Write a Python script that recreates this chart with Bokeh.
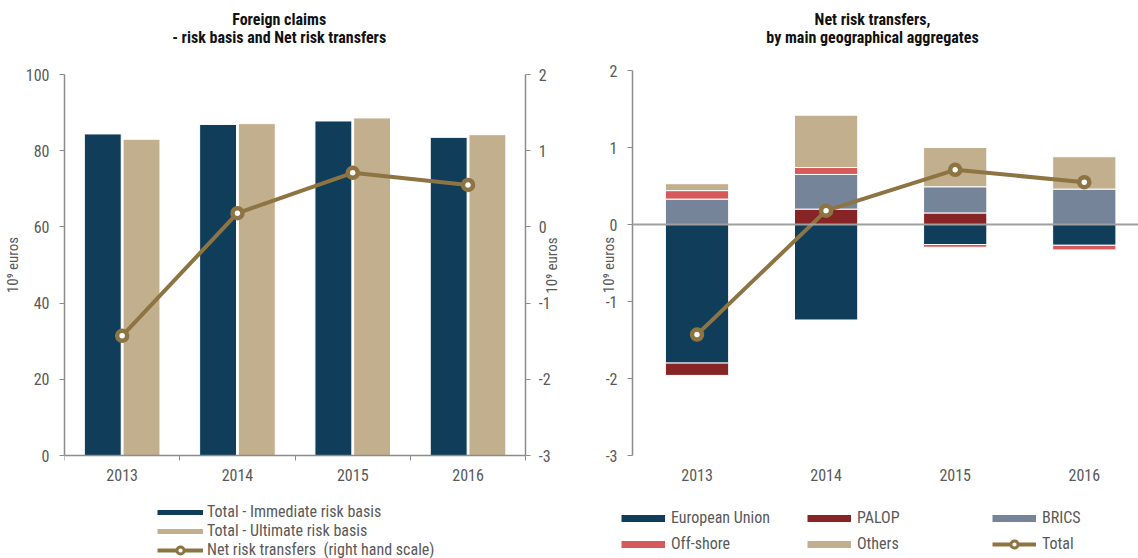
import math
from bokeh.plotting import figure
from bokeh.models import (Range1d, LinearAxis, FixedTicker, Legend, LegendItem, Span,
                          ColumnDataSource, Label)
from bokeh.layouts import row, column
from bokeh.transform import dodge
from bokeh.embed import file_html
from bokeh.resources import INLINE

# ---------------- data ----------------
years = ["2013", "2014", "2015", "2016"]
immediate_risk = [84.4, 86.9, 87.8, 83.5]
ultimate_risk = [83.0, 87.1, 88.6, 84.2]
net_risk_transfers = [-1.43, 0.18, 0.71, 0.55]

european_union = [-1.80, -1.24, -0.26, -0.27]
palop = [-0.16, 0.20, 0.15, 0.0]
brics = [0.33, 0.45, 0.34, 0.46]
offshore = [0.11, 0.09, -0.035, -0.06]
others = [0.09, 0.68, 0.51, 0.42]

left_ticks = [0, 20, 40, 60, 80, 100]
right_ticks = [-3, -2, -1, 0, 1, 2]

title_left = ["Foreign claims", "- risk basis and Net risk transfers"]
title_right = ["Net risk transfers,", "by main geographical aggregates"]
unit_label = "10⁹ euros"

# ---------------- style ----------------
FONT = "'Roboto Condensed', 'Liberation Sans Narrow', 'Arial Narrow', 'Liberation Sans', sans-serif"
NAVY = "#0F3D5A"
TAN = "#C2AF8E"
GOLD = "#8D7442"
PALOP_C = "#862426"
BRICS_C = "#768499"
OFF_C = "#D65A5B"
AXC = "#8C8C8C"
TXT = "#595959"
TITLE_C = "#111111"

xs = list(range(len(years)))
labels_map = {i: y for i, y in enumerate(years)}
right_map = {t: str(t) for t in right_ticks}


def style_axis(ax):
    ax.axis_line_color = AXC
    ax.axis_line_width = 1.5
    ax.major_tick_line_color = AXC
    ax.minor_tick_line_color = AXC
    ax.major_label_text_font = FONT
    ax.major_label_text_font_size = "16px"
    ax.major_label_text_color = TXT
    ax.axis_label_text_font = FONT
    ax.axis_label_text_font_size = "15px"
    ax.axis_label_text_font_style = "normal"
    ax.axis_label_text_color = TXT
    ax.major_tick_in = 0
    ax.major_tick_out = 5
    ax.minor_tick_in = 0
    ax.minor_tick_out = 0


def clean(p):
    p.grid.visible = False
    p.outline_line_color = None
    p.background_fill_color = "white"
    p.border_fill_color = "white"


def blank(width, height, xr, yr, bl=0, br=0):
    p = figure(width=width, height=height, x_range=xr, y_range=yr,
               output_backend="svg", toolbar_location=None, title=None,
               x_axis_location=None, y_axis_location=None,
               min_border_left=bl, min_border_right=br, min_border_top=0, min_border_bottom=0)
    clean(p)
    return p


def header(width, height, bl, br, cx, lines, y0):
    # x range expressed in the figure's own pixel coordinates
    h = blank(width, height, Range1d(bl, width - br), Range1d(height, 0), bl, br)
    for k, t in enumerate(lines):
        h.add_layout(Label(x=cx, y=y0 + 17.5 * k, text=t, text_align="center",
                           text_baseline="middle", text_font=FONT, text_font_size="16px",
                           text_font_style="bold", text_color=TITLE_C))
    return h


W1, W2 = 578, 560
HEAD_H, CH_H, LEG_H = 46, 442, 70
x_lo, x_hi = -0.5, len(years) - 0.5
y_lo, y_hi = 0, 100
n_lo, n_hi = -3, 2

# ---------------- left chart ----------------
head1 = header(W1, HEAD_H, 62, 0, 277.5, title_left, 19)

# The frame covers the whole drawing area (46..483 px high, 62..578 px wide) so that
# axes drawn at fixed locations are not clipped. Scale: 100 at 74 px, 0 at 455 px.
p1 = figure(width=W1, height=CH_H, x_range=Range1d(x_lo, x_hi + 53 / 115.75),
            y_range=Range1d(y_lo - 28 / 3.81, y_hi + 28 / 3.81),
            output_backend="svg", toolbar_location=None, title=None,
            min_border_left=62, min_border_right=0, min_border_top=0, min_border_bottom=5)
clean(p1)
p1.extra_y_ranges = {"net": Range1d(n_lo - 28 / 76.2, n_hi + 28 / 76.2)}

src1 = ColumnDataSource(dict(x=xs, imm=immediate_risk, ult=ultimate_risk, net=net_risk_transfers))
p1.vbar(x=dodge("x", -0.168, range=p1.x_range), top="imm", bottom=0, width=0.32,
        fill_color=NAVY, line_color="white", line_width=1, source=src1)
p1.vbar(x=dodge("x", 0.168, range=p1.x_range), top="ult", bottom=0, width=0.32,
        fill_color=TAN, line_color="white", line_width=1, source=src1)
p1.line("x", "net", y_range_name="net", line_color=GOLD, line_width=4, source=src1)
p1.scatter("x", "net", y_range_name="net", size=10, fill_color="white",
           line_color=GOLD, line_width=4.5, source=src1)

xa1 = p1.xaxis[0]
style_axis(xa1)
xa1.fixed_location = y_lo
xa1.bounds = (x_lo, x_hi)
xa1.ticker = FixedTicker(ticks=xs, minor_ticks=[i - 0.5 for i in range(len(years) + 1)])
xa1.major_label_overrides = labels_map
xa1.major_tick_line_color = None
xa1.major_tick_out = 0
xa1.minor_tick_out = 5
xa1.major_label_standoff = 8

ya1 = p1.yaxis[0]
style_axis(ya1)
ya1.bounds = (y_lo, y_hi)
ya1.ticker = FixedTicker(ticks=left_ticks)
ya1.major_label_standoff = 10
ya1.axis_label = unit_label
ya1.axis_label_standoff = 1

ax_r = LinearAxis(y_range_name="net", ticker=FixedTicker(ticks=right_ticks), fixed_location=x_hi)
style_axis(ax_r)
ax_r.bounds = (n_lo, n_hi)
ax_r.major_label_standoff = 8
ax_r.major_label_overrides = right_map
p1.add_layout(ax_r, "right")
p1.add_layout(Label(x=x_hi + 0.225, y=-0.507, y_range_name="net", text=unit_label,
                    angle=math.pi / 2, text_align="center", text_baseline="middle",
                    text_font=FONT, text_font_size="15px", text_color=TXT))

# ---------------- right chart ----------------
head2 = header(W2, HEAD_H, 54, 0, 294, title_right, 19)

# frame 46..483 px high; 2 at 70 px, -3 at 455 px (77 px per unit)
p2 = figure(width=W2, height=CH_H, x_range=Range1d(x_lo, 3.42),
            y_range=Range1d(n_lo - 28 / 77, n_hi + 24 / 77),
            output_backend="svg", toolbar_location=None, title=None,
            min_border_left=54, min_border_right=0, min_border_top=0, min_border_bottom=5)
clean(p2)

series = [("European Union", european_union, NAVY),
          ("PALOP", palop, PALOP_C),
          ("BRICS", brics, BRICS_C),
          ("Off-shore", offshore, OFF_C),
          ("Others", others, TAN)]
pos_base = [0.0] * len(years)
neg_base = [0.0] * len(years)
for name, vals, col in series:
    bottoms, tops = [], []
    for i, v in enumerate(vals):
        if v >= 0:
            b = pos_base[i]
            pos_base[i] = b + v
        else:
            b = neg_base[i]
            neg_base[i] = b + v
        bottoms.append(b)
        tops.append(b + v)
    s = ColumnDataSource(dict(x=xs, bottom=bottoms, top=tops))
    p2.vbar(x="x", bottom="bottom", top="top", width=0.49, fill_color=col,
            line_color="white", line_width=1, source=s)

p2.add_layout(Span(location=0, dimension="width", line_color="#A0A0A0", line_width=2))

src2 = ColumnDataSource(dict(x=xs, net=net_risk_transfers))
p2.line("x", "net", line_color=GOLD, line_width=4, source=src2)
p2.scatter("x", "net", size=10, fill_color="white", line_color=GOLD, line_width=4.5, source=src2)

xa2 = p2.xaxis[0]
style_axis(xa2)
xa2.fixed_location = n_lo
xa2.ticker = FixedTicker(ticks=xs)
xa2.major_label_overrides = labels_map
xa2.axis_line_color = None
xa2.major_tick_line_color = None
xa2.major_tick_out = 0
xa2.major_label_standoff = 13

ya2 = p2.yaxis[0]
style_axis(ya2)
ya2.bounds = (n_lo, n_hi)
ya2.ticker = FixedTicker(ticks=right_ticks)
ya2.major_label_overrides = right_map
ya2.major_label_standoff = 10
ya2.axis_label = unit_label
ya2.axis_label_standoff = -15

# ---------------- legends (footer figures) ----------------
leg_common = dict(orientation="vertical", padding=0, margin=0,
                  glyph_height=18, label_height=18,
                  label_text_font=FONT, label_text_font_size="16px", label_text_color=TXT,
                  border_line_color=None, background_fill_alpha=0)
off_x, off_y = [2, 3], [2, 2]  # legend proxies, outside the visible range

f1 = blank(W1, LEG_H, Range1d(0, 1), Range1d(0, 1))
lp_imm = f1.line(off_x, off_y, line_color=NAVY, line_width=5, line_cap="butt")
lp_ult = f1.line(off_x, off_y, line_color=TAN, line_width=5, line_cap="butt")
lp_net_l = f1.line(off_x, off_y, line_color=GOLD, line_width=4)
lp_net_m = f1.scatter(off_x, off_y, size=6, fill_color="white", line_color=GOLD, line_width=3)
f1.add_layout(Legend(items=[LegendItem(label="Total - Immediate risk basis", renderers=[lp_imm]),
                            LegendItem(label="Total - Ultimate risk basis", renderers=[lp_ult]),
                            LegendItem(label="Net risk transfers  (right hand scale)",
                                       renderers=[lp_net_l, lp_net_m])],
                     location=(157, -1), spacing=0, glyph_width=46, label_standoff=4,
                     **leg_common))

f2 = blank(W2, LEG_H, Range1d(0, 1), Range1d(0, 1))
proxies = {}
for name, vals, col in series:
    proxies[name] = f2.line(off_x, off_y, line_color=col, line_width=7, line_cap="butt")
tp_l = f2.line(off_x, off_y, line_color=GOLD, line_width=4)
tp_m = f2.scatter(off_x, off_y, size=6, fill_color="white", line_color=GOLD, line_width=3)

columns = [[("European Union", [proxies["European Union"]]), ("Off-shore", [proxies["Off-shore"]])],
           [("PALOP", [proxies["PALOP"]]), ("Others", [proxies["Others"]])],
           [("BRICS", [proxies["BRICS"]]), ("Total", [tp_l, tp_m])]]
for cx, items in zip([43, 229, 414], columns):
    f2.add_layout(Legend(items=[LegendItem(label=t, renderers=r) for t, r in items],
                         location=(cx, 5), spacing=7, glyph_width=44, label_standoff=6,
                         **leg_common))

layout = column(row(column(head1, p1), column(head2, p2)), row(f1, f2))
open("out.html", "w").write(file_html(layout, INLINE))
